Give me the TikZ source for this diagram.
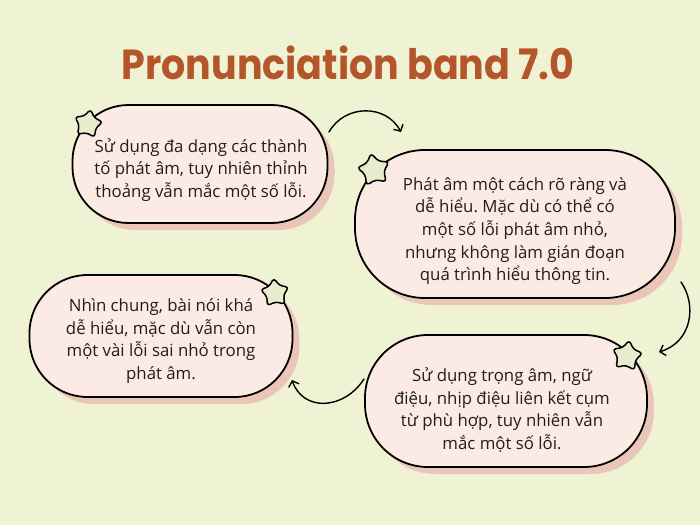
\documentclass[tikz,border=0pt]{standalone}
\usepackage{fontspec}
\setmainfont{Open Sans}
\newfontfamily\titlefont{Poppins}
\usetikzlibrary{shadows,arrows.meta}
\frenchspacing
\definecolor{bgcol}{HTML}{F0F2D4}
\definecolor{boxfill}{HTML}{FCEBE5}
\definecolor{shadowcol}{HTML}{EAC6B8}
\definecolor{starfill}{HTML}{E7EDCC}
\definecolor{titlecol}{HTML}{B4552A}
\definecolor{textcol}{HTML}{1E1E1E}
\tikzset{
  bubble/.style={draw=black, line width=1.8pt, fill=boxfill, inner sep=0pt,
    drop shadow={shadow xshift=7pt, shadow yshift=-7pt, fill=shadowcol, opacity=1}},
  bubbletext/.style={align=center, text=textcol, inner sep=0pt,
    font=\frenchspacing\fontsize{16.8}{22.7}\selectfont},
  starshape/.style={draw=black, line width=1.5pt, fill=starfill, rounded corners=3.4pt, line join=round},
  flow/.style={draw=black, line width=1.4pt, line cap=round, -{Straight Barb[length=5pt,width=11pt,line width=1.4pt]}},
}
\newcommand{\drawstarat}[4]{% x y radius rotation
  \draw[starshape, shift={(#1,#2)}, rotate=#4]
    (-90:#3) -- (-54:0.58*#3) -- (-18:#3) -- (18:0.58*#3) -- (54:#3) -- (90:0.58*#3)
    -- (126:#3) -- (162:0.58*#3) -- (198:#3) -- (234:0.58*#3) -- cycle;}
\begin{document}
\begin{tikzpicture}[x=1pt,y=-1pt]
\fill[bgcol] (0,0) rectangle (700,525);
\useasboundingbox (0,0) rectangle (700,525);
\node[text=titlecol, font=\titlefont\bfseries\fontsize{42}{46}\selectfont] (title) at (348,63)
  {\scalebox{0.905}[1]{Pronunciation band 7.0}};

\node[bubble, minimum width=255pt, minimum height=118pt, rounded corners=56pt] (b1) at (200,164) {};
\node[bubble, minimum width=320pt, minimum height=148pt, rounded corners=70pt] (b2) at (515,224) {};
\node[bubble, minimum width=263pt, minimum height=122pt, rounded corners=58pt] (b3) at (161,336) {};
\node[bubble, minimum width=282pt, minimum height=132pt, rounded corners=63pt] (b4) at (506,401) {};

\node[bubbletext] (t1) at ([xshift=1pt,yshift=-6pt]b1.center)
  {Sử dụng đa dạng các thành\\tố phát âm, tuy nhiên thỉnh\\thoảng vẫn mắc một số lỗi.};
\node[bubbletext] (t2) at ([yshift=-7pt]b2.center)
  {Phát âm một cách rõ ràng và\\dễ hiểu. Mặc dù có thể có\\một số lỗi phát âm nhỏ,\\nhưng không làm gián đoạn\\quá trình hiểu thông tin.};
\node[bubbletext] (t3) at ([yshift=-5pt]b3.center)
  {Nhìn chung, bài nói khá\\dễ hiểu, mặc dù vẫn còn\\một vài lỗi sai nhỏ trong\\phát âm.};
\node[bubbletext] (t4) at ([xshift=-4pt,yshift=-9pt]b4.center)
  {Sử dụng trọng âm, ngữ\\điệu, nhịp điệu liên kết cụm\\từ phù hợp, tuy nhiên vẫn\\mắc một số lỗi.};

\drawstarat{88}{124}{15}{-10}
\drawstarat{374}{170}{17}{10}
\drawstarat{275}{293}{15}{5}
\drawstarat{627}{356}{16}{-8}

\coordinate (a1s) at (329,132);
\coordinate (a1e) at (401,132);
\coordinate (a2s) at (681,282);
\coordinate (a2e) at (659,352);
\coordinate (a3s) at (364,379);
\coordinate (a3e) at (292,380);
\draw[flow] (a1s) .. controls (345,104) and (386,104) .. (a1e);
\draw[flow] (a2s) .. controls (697,305) and (692,342) .. (a2e);
\draw[flow] (a3s) .. controls (344,410) and (303,412) .. (a3e);
\end{tikzpicture}
\end{document}
